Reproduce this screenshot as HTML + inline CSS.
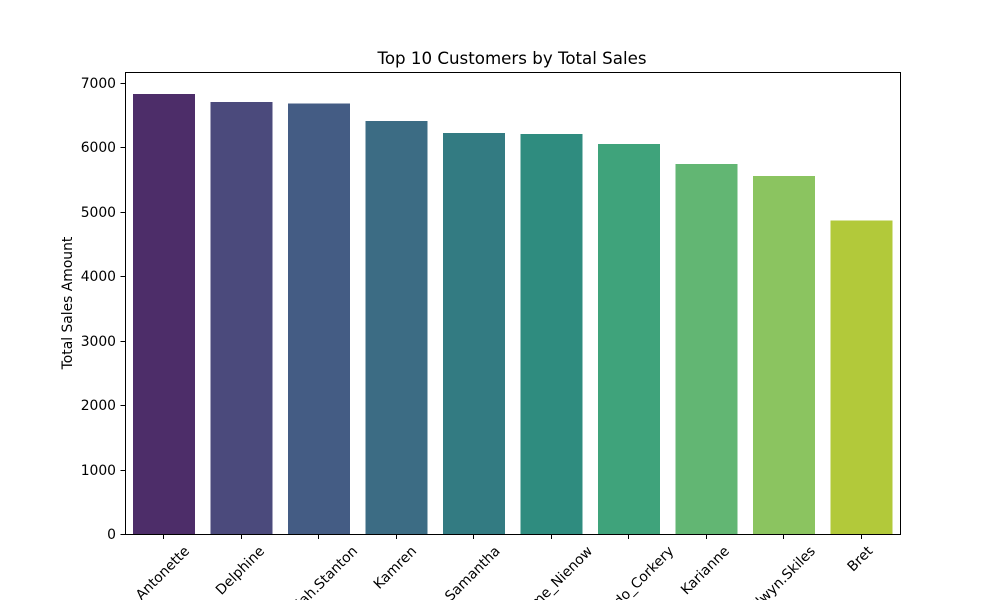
<!DOCTYPE html>
<html>
<head>
<meta charset="utf-8">
<style>
html,body{margin:0;padding:0;background:#fff;width:1000px;height:600px;overflow:hidden}
svg{display:block;overflow:hidden}
text{font-family:"DejaVu Sans",sans-serif;fill:#000}
</style>
</head>
<body>
<svg id="chart" width="1000" height="600" viewBox="0 0 1000 600" xmlns="http://www.w3.org/2000/svg">
  <text x="512" y="64" text-anchor="middle" font-size="16.67">Top 10 Customers by Total Sales</text>
  <text transform="translate(72 303) rotate(-90)" text-anchor="middle" font-size="13.89">Total Sales Amount</text>
</svg>
<script>
const customers = ["Antonette","Delphine","Moriah.Stanton","Kamren","Samantha","Maxime_Nienow","Leopoldo_Corkery","Karianne","Elwyn.Skiles","Bret"];
const totalSales = [6825,6700,6680,6405,6220,6205,6050,5740,5550,4865];
const barColors = ["#4d2d69","#4b4a7c","#445c84","#3c6c84","#337b82","#2f8c7f","#3fa37b","#62b673","#8bc460","#b2c93a"];
const yTicks = [0,1000,2000,3000,4000,5000,6000,7000];

const svg = document.getElementById('chart');
const NS = 'http://www.w3.org/2000/svg';
const plot = {left:125, right:900, top:72, bottom:534};
const yMax = Math.max(...totalSales) * 1.05;
const xScale = i => plot.left + (i + 0.5) * (plot.right - plot.left) / customers.length;
const yScale = v => plot.bottom - v / yMax * (plot.bottom - plot.top);
const bandWidth = 0.8 * (plot.right - plot.left) / customers.length;

function make(tag, attrs, parent) {
  const el = document.createElementNS(NS, tag);
  for (const k in attrs) el.setAttribute(k, attrs[k]);
  (parent || svg).appendChild(el);
  return el;
}

totalSales.forEach((v, i) => {
  const bar = make('rect', {x: xScale(i) - bandWidth / 2, y: yScale(v), width: bandWidth, height: plot.bottom - yScale(v), fill: barColors[i], 'shape-rendering': 'crispEdges'});
  
  
});

const frame = make('rect', {x: plot.left + 0.5, y: plot.top + 0.5, width: plot.right - plot.left, height: plot.bottom - plot.top, fill: 'none', stroke: '#000', 'stroke-width': 1});



yTicks.forEach(t => {
  const y = Math.round(yScale(t));
  const mark = make('line', {x1: plot.left - 4.5, x2: plot.left, y1: y + 0.5, y2: y + 0.5, stroke: '#000', 'stroke-width': 1});
  
  
  const label = make('text', {x: plot.left - 9, y: y + 5, 'text-anchor': 'end', 'font-size': 13.89});
  
  
  label.textContent = t;
});

customers.forEach((name, i) => {
  const x = xScale(i);
  const tx = Math.floor(x) + 0.5;
  const mark = make('line', {x1: tx, x2: tx, y1: plot.bottom, y2: plot.bottom + 5, stroke: '#000', 'stroke-width': 1});
  
  
  const label = make('text', {'text-anchor': 'middle', 'font-size': 13.89});
  
  
  label.textContent = name;
  const w = label.getComputedTextLength();
  const lineHeight = 14;
  const half = (w + lineHeight) * Math.SQRT1_2 / 2;
  const cy = plot.bottom + 9.7 + half;
  label.setAttribute('transform', 'translate(' + (x - 1.2) + ' ' + cy + ') rotate(-45) translate(0 4.5)');
});
</script>
</body>
</html>
